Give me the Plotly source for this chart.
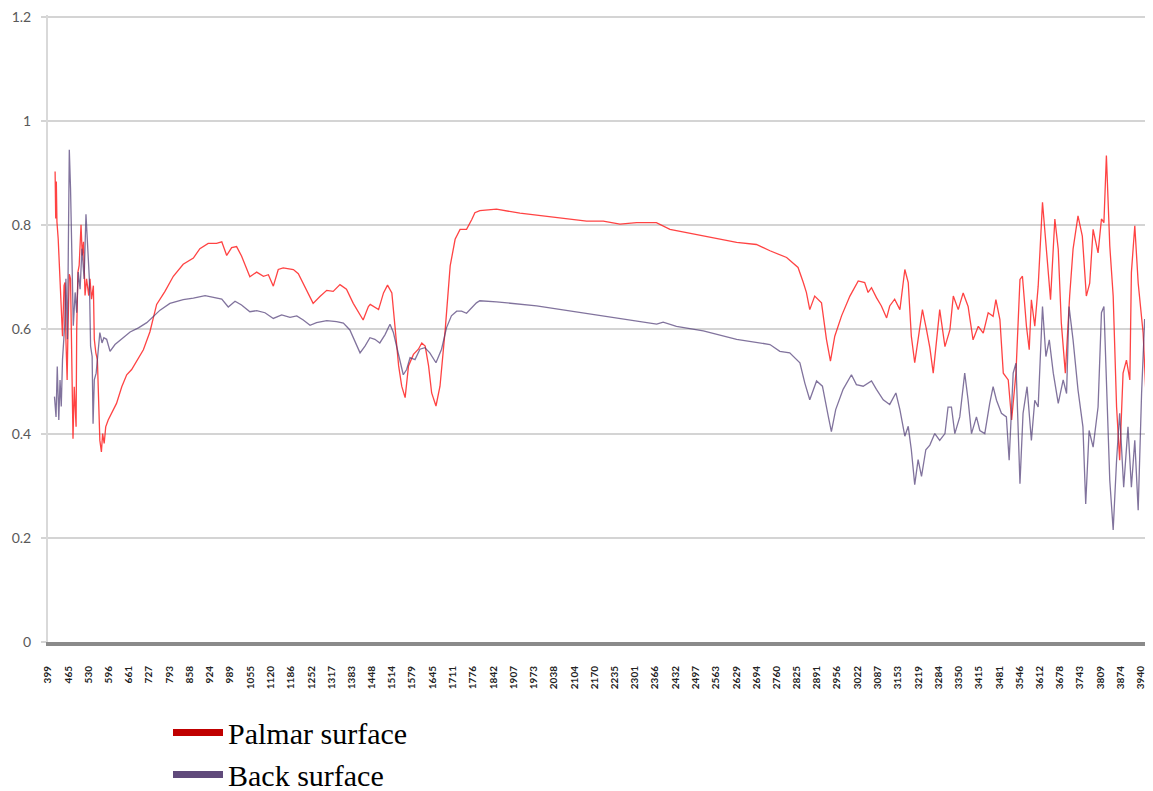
import plotly.graph_objects as go

# Category tick labels (wavenumber, cm-1)
tick_labels = [399, 465, 530, 596, 661, 727, 793, 858, 924, 989, 1055, 1120, 1186, 1252,
               1317, 1383, 1448, 1514, 1579, 1645, 1711, 1776, 1842, 1907, 1973, 2038,
               2104, 2170, 2235, 2301, 2366, 2432, 2497, 2563, 2629, 2694, 2760, 2825,
               2891, 2956, 3022, 3087, 3153, 3219, 3284, 3350, 3415, 3481, 3546, 3612,
               3678, 3743, 3809, 3874, 3940]

y_ticks = [0, 0.2, 0.4, 0.6, 0.8, 1, 1.2]

# Palmar surface
palmar_wn = [422, 424, 426, 428, 432, 440, 446, 451, 454, 457, 461, 464, 468, 472, 476, 480,
             484, 490, 492, 496, 500, 506, 510, 514, 519, 524, 531, 535, 540, 546, 549, 554,
             559, 563, 567, 572, 576, 581, 586, 594, 605, 621, 638, 654, 670, 686, 708, 729,
             751, 778, 805, 837, 870, 891, 918, 945, 962, 978, 994, 1010, 1026, 1053, 1075,
             1097, 1113, 1129, 1145, 1161, 1194, 1210, 1237, 1258, 1280, 1302, 1323, 1345,
             1366, 1388, 1420, 1437, 1443, 1470, 1486, 1499, 1513, 1524, 1535, 1545, 1556,
             1567, 1583, 1599, 1610, 1621, 1632, 1642, 1656, 1669, 1686, 1702, 1718, 1734,
             1755, 1772, 1782, 1798, 1852, 1928, 2036, 2144, 2198, 2252, 2306, 2370, 2414,
             2522, 2630, 2694, 2738, 2792, 2829, 2846, 2856, 2867, 2883, 2905, 2921, 2934,
             2948, 2970, 2997, 3024, 3045, 3056, 3067, 3083, 3099, 3116, 3126, 3142, 3159,
             3175, 3186, 3196, 3207, 3218, 3232, 3245, 3256, 3267, 3278, 3288, 3305, 3321,
             3332, 3348, 3364, 3380, 3396, 3413, 3429, 3445, 3461, 3470, 3483, 3494, 3510,
             3521, 3535, 3548, 3556, 3569, 3578, 3585, 3596, 3607, 3621, 3634, 3647, 3661,
             3672, 3682, 3695, 3709, 3720, 3736, 3750, 3763, 3774, 3785, 3801, 3812, 3820,
             3828, 3839, 3850, 3861, 3871, 3882, 3893, 3904, 3909, 3920, 3931, 3947, 3956,
             3963, 3974, 3979]
palmar_abs = [0.903, 0.813, 0.884, 0.806, 0.774, 0.677, 0.587, 0.684, 0.690, 0.581, 0.503,
              0.607, 0.706, 0.697, 0.477, 0.390, 0.490, 0.413, 0.600, 0.710, 0.723, 0.801,
              0.742, 0.768, 0.665, 0.697, 0.665, 0.697, 0.658, 0.684, 0.581, 0.555, 0.542,
              0.465, 0.387, 0.365, 0.400, 0.381, 0.413, 0.426, 0.439, 0.458, 0.490, 0.513,
              0.523, 0.539, 0.561, 0.595, 0.648, 0.673, 0.702, 0.725, 0.737, 0.755, 0.765,
              0.765, 0.768, 0.742, 0.757, 0.759, 0.741, 0.701, 0.710, 0.702, 0.705, 0.683,
              0.715, 0.718, 0.715, 0.707, 0.676, 0.650, 0.663, 0.675, 0.673, 0.686, 0.677,
              0.650, 0.618, 0.644, 0.648, 0.638, 0.670, 0.685, 0.670, 0.606, 0.530, 0.491,
              0.469, 0.530, 0.552, 0.562, 0.574, 0.568, 0.530, 0.478, 0.453, 0.491, 0.600,
              0.722, 0.773, 0.792, 0.792, 0.811, 0.824, 0.828, 0.831, 0.823, 0.815, 0.808,
              0.808, 0.802, 0.805, 0.805, 0.792, 0.780, 0.767, 0.763, 0.751, 0.738, 0.719,
              0.690, 0.671, 0.638, 0.664, 0.651, 0.581, 0.539, 0.587, 0.626, 0.664, 0.693,
              0.690, 0.671, 0.680, 0.661, 0.645, 0.622, 0.645, 0.658, 0.638, 0.715, 0.690,
              0.587, 0.536, 0.581, 0.638, 0.600, 0.565, 0.516, 0.587, 0.638, 0.567, 0.599,
              0.664, 0.638, 0.670, 0.644, 0.580, 0.606, 0.593, 0.632, 0.625, 0.657, 0.619,
              0.516, 0.503, 0.426, 0.516, 0.696, 0.702, 0.606, 0.561, 0.657, 0.606, 0.683,
              0.844, 0.754, 0.657, 0.812, 0.754, 0.612, 0.516, 0.664, 0.754, 0.818, 0.779,
              0.664, 0.689, 0.792, 0.747, 0.812, 0.805, 0.934, 0.760, 0.664, 0.451, 0.349,
              0.516, 0.541, 0.503, 0.709, 0.799, 0.689, 0.593, 0.477, 0.709, 0.760, 0.747]

# Back surface
back_wn = [420, 425, 429, 434, 438, 442, 446, 453, 457, 462, 468, 472, 477, 481, 487, 492,
           497, 503, 509, 516, 522, 528, 533, 537, 542, 545, 549, 555, 560, 567, 574, 580,
           589, 600, 616, 638, 665, 692, 719, 762, 794, 837, 870, 908, 945, 962, 983, 1005,
           1026, 1053, 1075, 1102, 1129, 1156, 1183, 1205, 1226, 1248, 1269, 1302, 1334,
           1356, 1377, 1399, 1410, 1426, 1442, 1458, 1474, 1491, 1507, 1518, 1534, 1550,
           1561, 1572, 1588, 1604, 1620, 1636, 1656, 1674, 1690, 1706, 1723, 1739, 1755,
           1771, 1787, 1798, 1852, 1982, 2090, 2198, 2306, 2371, 2392, 2435, 2522, 2630,
           2738, 2770, 2802, 2835, 2851, 2867, 2889, 2908, 2927, 2937, 2951, 2975, 3002,
           3018, 3040, 3067, 3083, 3105, 3126, 3146, 3159, 3175, 3186, 3196, 3207, 3218,
           3229, 3243, 3256, 3272, 3288, 3305, 3315, 3326, 3337, 3353, 3369, 3380, 3391,
           3407, 3418, 3434, 3450, 3461, 3472, 3488, 3504, 3513, 3526, 3535, 3548, 3558,
           3571, 3585, 3596, 3607, 3621, 3632, 3643, 3656, 3672, 3688, 3699, 3707, 3720,
           3736, 3752, 3761, 3772, 3785, 3801, 3812, 3820, 3828, 3839, 3850, 3861, 3871,
           3884, 3898, 3909, 3920, 3931, 3942, 3952, 3963, 3972, 3979]
back_abs = [0.471, 0.432, 0.529, 0.426, 0.503, 0.452, 0.542, 0.607, 0.697, 0.581, 0.945,
            0.871, 0.723, 0.607, 0.671, 0.632, 0.710, 0.677, 0.755, 0.697, 0.821, 0.755,
            0.697, 0.568, 0.548, 0.419, 0.503, 0.516, 0.555, 0.594, 0.574, 0.584, 0.581,
            0.558, 0.571, 0.581, 0.595, 0.603, 0.613, 0.637, 0.650, 0.657, 0.660, 0.665,
            0.660, 0.658, 0.643, 0.654, 0.647, 0.634, 0.636, 0.632, 0.621, 0.628, 0.623,
            0.626, 0.618, 0.608, 0.613, 0.617, 0.615, 0.612, 0.599, 0.570, 0.555, 0.568,
            0.584, 0.581, 0.574, 0.590, 0.610, 0.594, 0.555, 0.513, 0.523, 0.546, 0.542,
            0.562, 0.565, 0.555, 0.536, 0.562, 0.603, 0.626, 0.635, 0.635, 0.631, 0.642,
            0.651, 0.655, 0.653, 0.645, 0.635, 0.626, 0.616, 0.610, 0.614, 0.606, 0.597,
            0.581, 0.571, 0.558, 0.555, 0.536, 0.497, 0.465, 0.501, 0.491, 0.433, 0.404,
            0.446, 0.485, 0.513, 0.494, 0.491, 0.501, 0.485, 0.465, 0.456, 0.478, 0.446,
            0.395, 0.414, 0.369, 0.302, 0.350, 0.318, 0.369, 0.378, 0.400, 0.387, 0.400,
            0.451, 0.451, 0.400, 0.432, 0.516, 0.464, 0.400, 0.432, 0.406, 0.400, 0.458,
            0.490, 0.464, 0.439, 0.432, 0.349, 0.516, 0.535, 0.304, 0.439, 0.490, 0.387,
            0.464, 0.451, 0.644, 0.548, 0.580, 0.516, 0.458, 0.503, 0.477, 0.644, 0.580,
            0.484, 0.413, 0.265, 0.406, 0.374, 0.451, 0.632, 0.644, 0.516, 0.310, 0.215,
            0.349, 0.439, 0.297, 0.413, 0.297, 0.387, 0.253, 0.477, 0.620, 0.560, 0.420,
            0.300]

fig = go.Figure()

fig.add_trace(go.Scatter(x=palmar_wn, y=palmar_abs, mode="lines", showlegend=False,
                         line=dict(color="rgba(255,20,20,0.8)", width=1.3)))
fig.add_trace(go.Scatter(x=back_wn, y=back_abs, mode="lines", showlegend=False,
                         line=dict(color="rgba(75,55,115,0.7)", width=1.3)))

# Legend entries
fig.add_trace(go.Scatter(x=[None], y=[None], mode="lines", name="Palmar surface",
                         line=dict(color="#c00000", width=7)))
fig.add_trace(go.Scatter(x=[None], y=[None], mode="lines", name="Back surface",
                         line=dict(color="#604a7b", width=7)))

# The page body adds an 8px margin, so the figure is sized/offset to compensate.
fig.update_layout(
    width=1145, height=783,
    margin=dict(l=40, r=0, t=7, b=149, autoexpand=False),
    paper_bgcolor="white", plot_bgcolor="white",
    legend=dict(x=0.1086, xanchor="left", y=-0.103, yanchor="top",
                font=dict(family="Liberation Serif, Times New Roman, serif", size=30,
                          color="#000000"),
                itemwidth=50, tracegroupgap=0, bgcolor="rgba(0,0,0,0)"),
)

fig.update_xaxes(
    range=[399, 3979], tickmode="array", tickvals=tick_labels,
    ticktext=[str(v) for v in tick_labels], tickangle=-90,
    tickfont=dict(family="Lato, Open Sans, sans-serif", size=10, color="#222222",
                  weight="bold"),
    showgrid=False, zeroline=False, showline=True, linecolor="#8a8a8a", linewidth=4,
    ticks="", ticklabelstandoff=16, automargin=False, ticklabeloverflow="allow",
)
fig.update_yaxes(
    range=[0, 1.2035], tickmode="array", tickvals=y_ticks,
    ticktext=["0", "0.2", "0.4", "0.6", "0.8", "1", "1.2"],
    tickfont=dict(family="Lato, Open Sans, sans-serif", size=14, color="#595959"),
    showgrid=True, gridcolor="#d4d4d4", gridwidth=1.5, zeroline=False,
    showline=True, linecolor="#d9d9d9", linewidth=2,
    ticks="outside", ticklen=5, tickcolor="#d4d4d4", tickwidth=1.5,
    ticklabelstandoff=7, automargin=False, ticklabeloverflow="allow",
)

fig.write_html("out.html")
